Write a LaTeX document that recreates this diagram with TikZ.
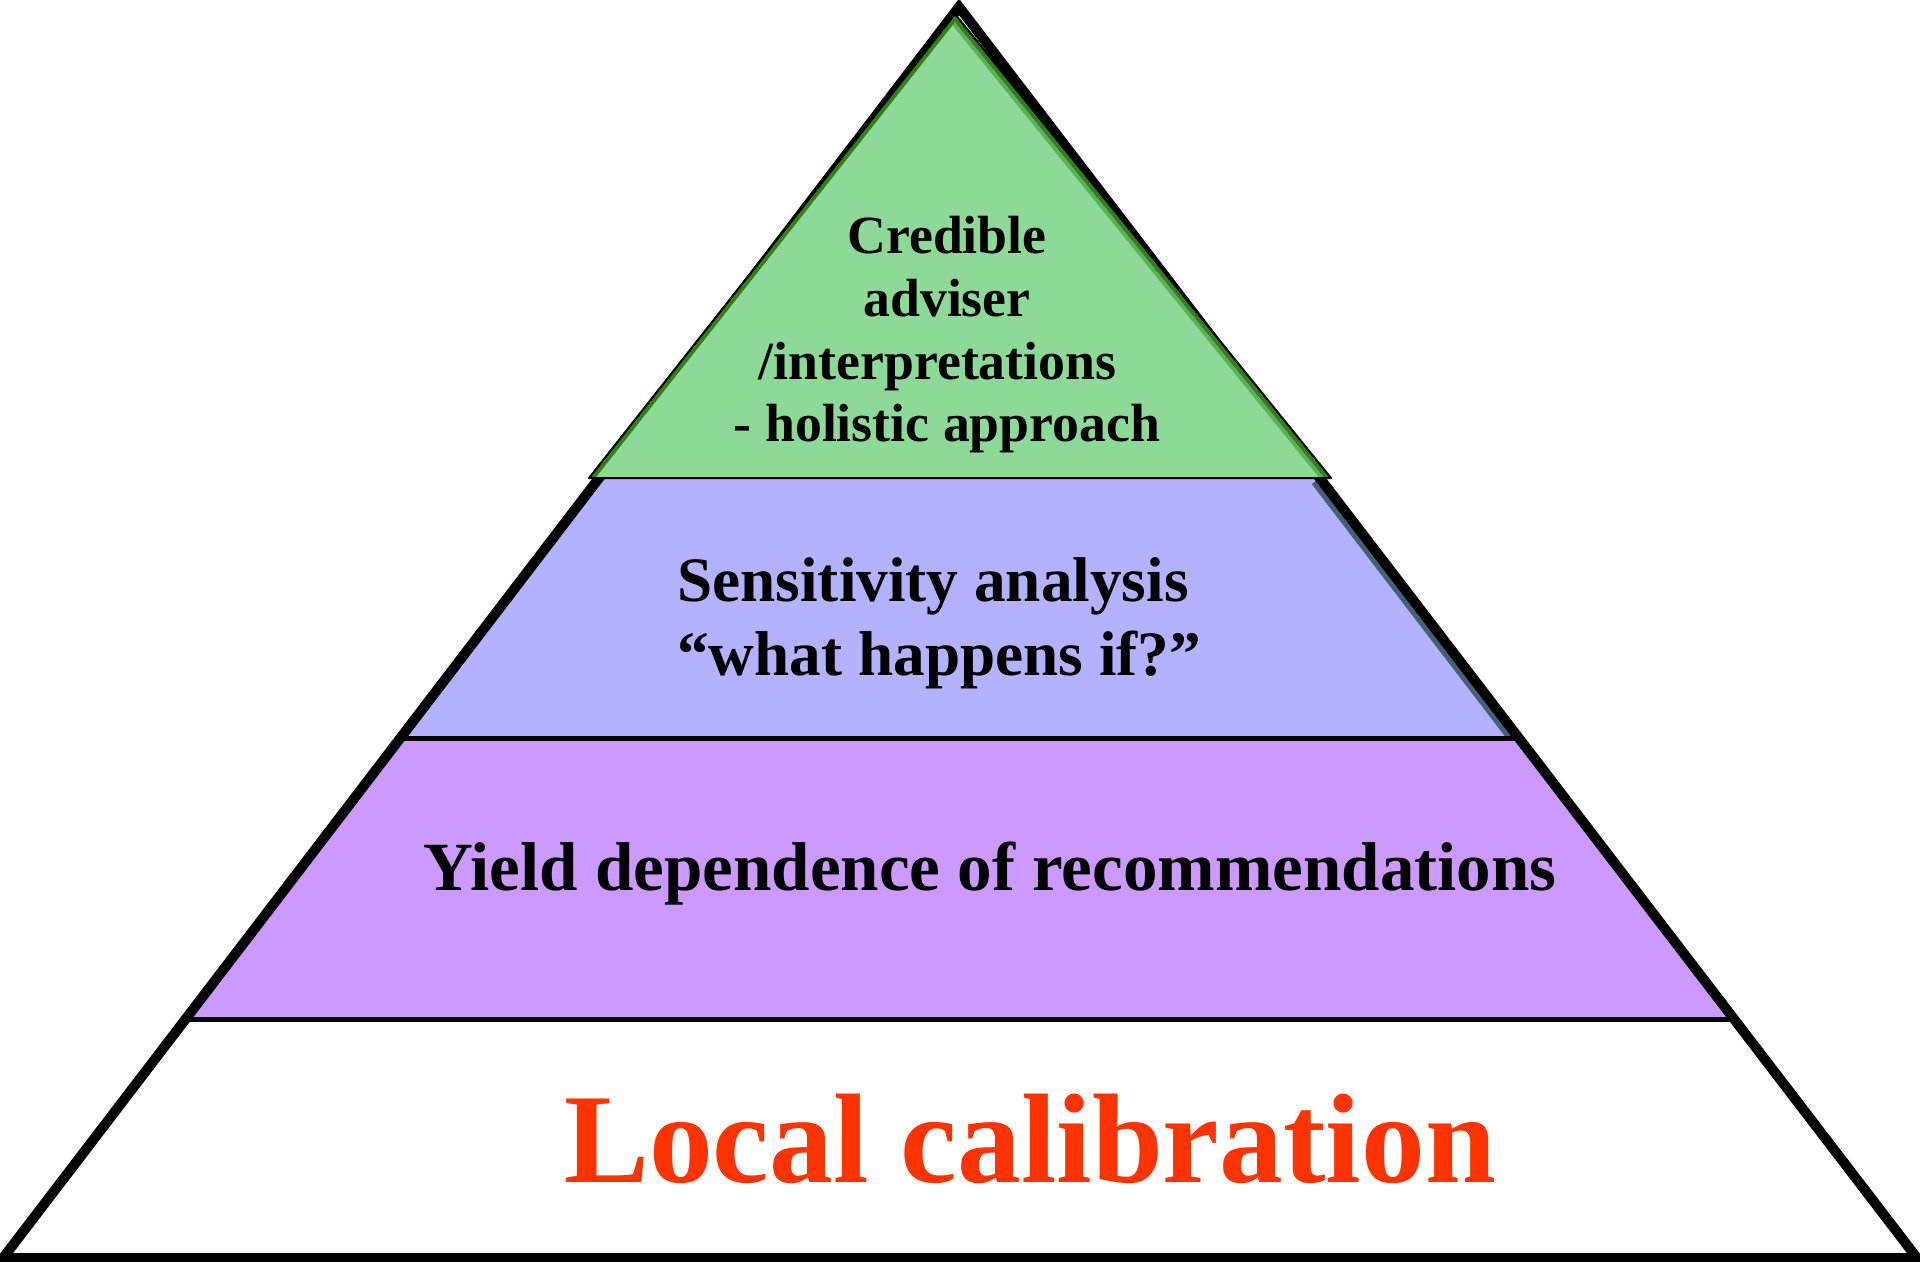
\documentclass[tikz,border=0pt]{standalone}
\usepackage{fontspec}
\setmainfont{Liberation Serif}
\usetikzlibrary{calc}
\definecolor{topgreen}{RGB}{141,217,151}
\definecolor{darkgreen}{RGB}{51,128,25}
\definecolor{midgreen}{RGB}{92,176,92}
\definecolor{bluish}{RGB}{178,178,255}
\definecolor{purplish}{RGB}{204,153,255}
\definecolor{slate}{RGB}{70,96,122}
\definecolor{orangered}{RGB}{255,51,0}

\begin{document}
\begin{tikzpicture}[
  x=0.02cm,
  y=-0.02cm,
  tiertext/.style={
    draw=none,
    fill=none,
    inner sep=0pt,
  },
  outline/.style={
    draw=black,
    line width=0.2cm,
    line join=miter,
  },
  divider/.style={
    draw=black,
    line width=0.1cm,
  },
  thin/.style={
    draw=black,
    line width=0.04cm,
    line join=round,
  },
]
\useasboundingbox (0,0) rectangle (1920,1261);

% Corners
\coordinate (apex) at (959,7);
\coordinate (bl) at (3,1258);
\coordinate (br) at (1917,1258);
\coordinate (l1) at ($(apex)!0.3765!(bl)$);
\coordinate (r1) at ($(apex)!0.3765!(br)$);
\coordinate (l2) at ($(apex)!0.5851!(bl)$);
\coordinate (r2) at ($(apex)!0.5851!(br)$);
\coordinate (l3) at ($(apex)!0.8090!(bl)$);
\coordinate (r3) at ($(apex)!0.8090!(br)$);
\coordinate (gtop) at (955,14);
\coordinate (gl) at (589,478);
\coordinate (gr) at (1331,478);

% Bands
\fill[purplish] (l2) -- (r2) -- (r3) -- (l3) -- cycle;
\fill[bluish] (l1) -- (r1) -- (r2) -- (l2) -- cycle;
\begin{scope}
  \clip (l1) -- (r1) -- (r2) -- (l2) -- cycle;
  \draw[slate, line width=0.4cm] (r1) -- (r2);
\end{scope}
\draw[divider] (l2) -- (r2);
\draw[divider] (l3) -- (r3);
\draw[outline] (apex) -- (bl) -- (br) -- cycle;

% Top
\fill[topgreen] (gtop) -- (gl) -- (gr) -- cycle;
\begin{scope}
  \clip (gtop) -- (gl) -- (gr) -- cycle;
  \draw[midgreen, line width=0.36cm] (gtop) -- (gr);
  \draw[darkgreen, line width=0.2cm] (gl) -- (gtop) -- (gr);
\end{scope}
\draw[thin] (gtop) -- (gl) -- (gr) -- cycle;

% Text
\node[tiertext, align=center, anchor=north,
  font=\fontsize{30.6}{35.7}\selectfont\bfseries] (advice) at (947,216)
  {Credible\\adviser\\/interpretations\kern0.35em\\- holistic approach};
\node[tiertext, align=left, anchor=north west,
  font=\fontsize{36}{42.5}\selectfont\bfseries] (sens) at (677,557)
  {Sensitivity analysis\\“what happens if?”};
\node[tiertext, anchor=base,
  font=\fontsize{39.3}{46}\selectfont\bfseries] (yield) at (990,890)
  {Yield dependence of recommendations};
\node[tiertext, anchor=base, text=orangered,
  font=\fontsize{72.6}{86}\selectfont\bfseries] (calib) at (1030,1182)
  {Local calibration};

\end{tikzpicture}
\end{document}
